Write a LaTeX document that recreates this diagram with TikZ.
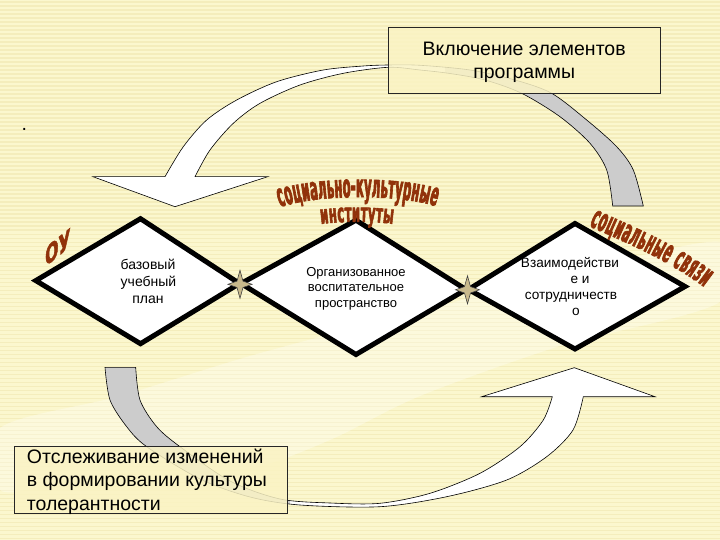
\documentclass[tikz,border=0pt]{standalone}
\usepackage{fontspec}
\setmainfont{Liberation Sans}
\newfontfamily\wordart[FakeStretch=0.36,FakeBold=2]{DejaVu Sans}
\newfontfamily\wordartm[FakeStretch=0.45,FakeBold=2]{DejaVu Sans}
\newfontfamily\wordartw[FakeStretch=0.6,FakeBold=2]{DejaVu Sans}
\usetikzlibrary{decorations.text}
\definecolor{bgyellow}{RGB}{251,247,206}
\definecolor{bgstripe}{RGB}{244,237,188}
\definecolor{boxfill}{RGB}{250,243,196}
\definecolor{bandgray}{RGB}{204,204,204}
\definecolor{startan}{RGB}{201,186,140}
\definecolor{wbrown}{RGB}{145,50,10}
\begin{document}
\begin{tikzpicture}[x=1pt,y=-1pt,
  tbox/.style={draw=black!85, line width=0.8pt, fill=boxfill, fill opacity=0.85, inner sep=0pt, anchor=north west},
  dia/.style={draw=black, line width=5pt, fill=white, line join=miter},
  band/.style={draw=black, line width=0.6pt, line join=miter},
  bigtxt/.style={font=\fontsize{19.5}{22}\selectfont, inner sep=0pt},
  diatxt/.style={font=\fontsize{#1}{#1}\selectfont, inner sep=0pt, anchor=base},
  star4/.pic={\fill[startan, draw=black!75, line width=0.6pt] (0,-14) -- (3,-3.2) -- (12,0) -- (3,3.2) -- (0,14) -- (-3,3.2) -- (-12,0) -- (-3,-3.2) -- cycle;}
]
\useasboundingbox (0,0) rectangle (720,540);
\fill[bgyellow] (0,0) rectangle (720,540);
\foreach \k in {0,...,134}{\fill[bgstripe] (0,{\k*4+1.5}) rectangle (720,{\k*4+3});}
% faint background shape
\fill[white, fill opacity=0.3] plot[smooth cycle] coordinates {(0,428) (120,396) (250,356) (400,316) (560,276) (720,242) (720,302) (560,346) (420,396) (330,440) (250,468) (150,470) (60,482) (0,490)};

% upper curved arrow
\def\topband{(93,176.7) -- (165,176.7) -- plot[smooth] coordinates {(165,176.7) (183.3,146.7) (206.7,120) (236.7,100) (276.7,81.7) (323.3,70) (363.3,66) (388.3,65) (420,65.3) (470,70) (515,80) (551.7,93.3) (586.7,120) (616.7,146.7) (633.3,170) (643.3,206)} -- plot[smooth] coordinates {(612.7,206) (606.7,170) (590,143.3) (560,116.7) (521.7,93.3) (485,80) (450,73.5) (420,70) (388.3,67.3) (343.3,73.3) (300,85) (260,103.3) (233.3,123.3) (210,150) (195,176.7)} -- (267.7,176.7) -- (175,206.7) -- cycle}
\fill[white] \topband;
\begin{scope}
  \clip (445,0) rectangle (720,300);
  \fill[bandgray] \topband;
\end{scope}
\draw[band] \topband;

% lower curved arrow
\def\botband{(105,367.3) -- plot[smooth] coordinates {(105,367.3) (110,400) (126.7,426.7) (146.7,446.7) (200,479) (250,497) (300,505) (380,506.7) (446.7,496.7) (506.7,480) (546.7,456.7) (573,430) (583.3,396.7)} -- (655,396.7) -- (574.3,367.7) -- (481.7,396.7) -- (552.3,396.7) -- plot[smooth] coordinates {(552.3,396.7) (543.3,420) (520,446.7) (480,473.3) (430,493.3) (380,503.3) (330,503) (280,499) (230,481) (180,446.7) (156.7,426.7) (140,400) (135.7,367.3)} -- cycle}
\fill[white] \botband;
\begin{scope}
  \clip (0,350) rectangle (290,540);
  \fill[bandgray] \botband;
\end{scope}
\draw[band] \botband;

% boxes
\node[tbox, minimum width=271.7pt, minimum height=66pt] (topbox) at (388.3,27.3) {};
\node[bigtxt, anchor=base] (inc1) at (524.2,56) {Включение элементов};
\node[bigtxt, anchor=base] (inc2) at (524.2,78.3) {программы};

\node[tbox, minimum width=272.7pt, minimum height=67pt] (botbox) at (14,445.7) {};
\node[bigtxt, anchor=base west] (trk1) at (26.7,463.3) {Отслеживание изменений};
\node[bigtxt, anchor=base west] (trk2) at (26.7,486.7) {в формировании культуры};
\node[bigtxt, anchor=base west] (trk3) at (26.7,510) {толерантности};

\node[bigtxt, anchor=base west] (dot) at (21.3,130.8) {.};

% diamonds
\coordinate (d1l) at (35.8,280.6); \coordinate (d1t) at (140.5,218.7);
\coordinate (d1r) at (239.5,283.5); \coordinate (d1b) at (140.5,343.7);
\coordinate (d2l) at (241,283.5); \coordinate (d2t) at (356,220.2);
\coordinate (d2r) at (466,289.5); \coordinate (d2b) at (356,354.5);
\coordinate (d3l) at (468.5,289.5); \coordinate (d3t) at (575,223.5);
\coordinate (d3r) at (685,286.5); \coordinate (d3b) at (575,349);
\draw[dia] (d1l) -- (d1t) -- (d1r) -- (d1b) -- cycle;
\draw[dia] (d2l) -- (d2t) -- (d2r) -- (d2b) -- cycle;
\draw[dia] (d3l) -- (d3t) -- (d3r) -- (d3b) -- cycle;

\node[diatxt=14] (a1) at (148,269.5) {базовый};
\node[diatxt=14] (a2) at (148.5,286.5) {учебный};
\node[diatxt=14] (a3) at (148,303) {план};

\node[diatxt=13] (b1) at (356,276) {Организованное};
\node[diatxt=13] (b2) at (356,291) {воспитательное};
\node[diatxt=13] (b3) at (356,307.5) {пространство};

\node[diatxt=13.6] (c1) at (570,267.5) {Взаимодействи};
\node[diatxt=13.6] (c2) at (580,283.5) {е и};
\node[diatxt=13.6] (c3) at (571,299) {сотрудничеств};
\node[diatxt=13.6] (c4) at (576,315) {о};

% stars at the joints
\pic at (240,284.3) {star4};
\pic at (467.5,289.8) {star4};

% word art
\path[decorate, decoration={text along path, text align={fit to path},
  text={|\wordart\bfseries\fontsize{32}{32}\selectfont\color{wbrown}|социально-культурные}}]
  (280,207) .. controls (320,194) and (395,194) .. (436,206);
\path[decorate, decoration={text along path, text align={fit to path},
  text={|\wordartm\bfseries\fontsize{26}{26}\selectfont\color{wbrown}|институты}}]
  (321,224) .. controls (345,221) and (370,221) .. (393,224);
\path[decorate, decoration={text along path, text align={fit to path},
  text={|\wordart\bfseries\fontsize{32}{32}\selectfont\color{wbrown}|социальные связи}}]
  (589,226) .. controls (627,243) and (670,261) .. (704,287);
\begin{scope}[shift={(45,267)}]
  \node[yslant=0.8, transform shape, text=wbrown, inner sep=0pt, anchor=base west,
    font=\wordartw\bfseries\fontsize{26}{26}\selectfont] (ou) at (0,0) {ОУ};
\end{scope}
\end{tikzpicture}
\end{document}
